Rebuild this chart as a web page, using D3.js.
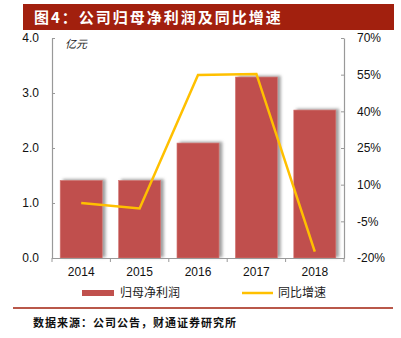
<!DOCTYPE html>
<html><head><meta charset="utf-8">
<script src="https://cdn.jsdelivr.net/npm/d3@7/dist/d3.min.js"></script>
<style>body{margin:0;background:#fff}svg{display:block}</style>
</head><body>
<script>
const categories = ["2014","2015","2016","2017","2018"];
const profit = [1.41, 1.41, 2.09, 3.29, 2.69];
const growth = [2.5, 0.3, 54.9, 55.3, -17.4];
const leftTicks = [0, 1, 2, 3, 4];
const rightTicks = [-20, -5, 10, 25, 40, 55, 70];
const title = "图4：公司归母净利润及同比增速";
const unitLabel = "亿元";
const legendLabels = ["归母净利润", "同比增速"];
const source = "数据来源：公司公告，财通证券研究所";

const W = 401, H = 338;
const m = {l:52, r:344, t:38, b:258};
const cjk = "'Noto Sans CJK SC', sans-serif";
const latin = "'Liberation Sans', Arial, sans-serif";
const svg = d3.select("body").append("svg").attr("width", W).attr("height", H);
const defs = svg.append("defs");
const f = defs.append("filter").attr("id","sh").attr("x","-20%").attr("y","-10%").attr("width","150%").attr("height","120%");
f.append("feDropShadow").attr("dx",3).attr("dy",-1).attr("stdDeviation",1.6).attr("flood-color","#777").attr("flood-opacity",0.7);

// title bar
svg.append("rect").attr("x",23).attr("y",4).attr("width",371).attr("height",26).attr("fill","#A2200E");
svg.append("text").attr("x",34).attr("y",23).attr("fill","#fff").attr("font-family",cjk)
  .attr("font-weight","bold").attr("font-size",15).attr("letter-spacing",2).text(title);

const x = d3.scaleBand().domain(categories).range([m.l, m.r]).paddingInner(0.28).paddingOuter(0.14);
const yL = d3.scaleLinear().domain([0,4]).range([m.b, m.t]);
const yR = d3.scaleLinear().domain([-20,70]).range([m.b, m.t]);

// bars
svg.append("g").selectAll("rect").data(profit).join("rect")
  .attr("x",(d,i)=>x(categories[i])).attr("width",x.bandwidth())
  .attr("y",d=>yL(d)).attr("height",d=>yL(0)-yL(d))
  .attr("fill","#C0504D").attr("stroke","#D57A77").attr("stroke-width",0.6).attr("filter","url(#sh)");

// axes
const axisColor = "#999";
const gL = svg.append("g").attr("transform",`translate(${m.l},0)`)
  .call(d3.axisLeft(yL).tickValues(leftTicks).tickFormat(d3.format(".1f")).tickSizeInner(-3).tickSizeOuter(0).tickPadding(13));
const gR = svg.append("g").attr("transform",`translate(${m.r},0)`)
  .call(d3.axisRight(yR).tickValues(rightTicks).tickFormat(d=>d+"%").tickSizeInner(-3).tickSizeOuter(0).tickPadding(13));
const step = x.step();
const gX = svg.append("g").attr("transform",`translate(0,${m.b})`)
  .call(d3.axisBottom(x).tickSize(0).tickPadding(9));
gX.selectAll(".tick line").remove();
gX.append("g").selectAll("line").data(d3.range(categories.length+1)).join("line")
  .attr("x1",i=>m.l+i*(m.r-m.l)/categories.length).attr("x2",i=>m.l+i*(m.r-m.l)/categories.length)
  .attr("y1",0).attr("y2",4).attr("stroke",axisColor);
[gL,gR,gX].forEach(g=>{
  g.select(".domain").attr("stroke",axisColor).attr("stroke-width",1.2);
  g.selectAll(".tick line").attr("stroke",axisColor);
  g.selectAll("text").attr("font-family",latin).attr("font-size",12).attr("fill","#111");
});
gR.selectAll("text").attr("x",13);

// line
const line = d3.line().x((d,i)=>x(categories[i])+x.bandwidth()/2).y(d=>yR(d));
svg.append("path").datum(growth).attr("d",line).attr("fill","none")
  .attr("stroke","#FFC000").attr("stroke-width",2.5).attr("stroke-linejoin","miter");

// unit
svg.append("text").attr("x",65).attr("y",48).attr("font-family",cjk).attr("font-size",11)
  .attr("font-style","italic").attr("fill","#222").text(unitLabel);

// legend
svg.append("rect").attr("x",82).attr("y",290).attr("width",32).attr("height",6).attr("fill","#C0504D");
svg.append("text").attr("x",120).attr("y",297).attr("font-family",cjk).attr("font-size",12).attr("fill","#222").text(legendLabels[0]);
svg.append("line").attr("x1",242).attr("x2",273).attr("y1",293).attr("y2",293).attr("stroke","#FFC000").attr("stroke-width",2.5);
svg.append("text").attr("x",278).attr("y",297).attr("font-family",cjk).attr("font-size",12).attr("fill","#222").text(legendLabels[1]);

// bottom line and source
svg.append("line").attr("x1",13).attr("x2",393).attr("y1",308).attr("y2",308).attr("stroke","#A2200E").attr("stroke-width",1.5);
svg.append("text").attr("x",33).attr("y",327).attr("font-family",cjk).attr("font-size",11)
  .attr("font-weight","bold").attr("fill","#111").attr("letter-spacing",1).text(source);
</script>
</body></html>
